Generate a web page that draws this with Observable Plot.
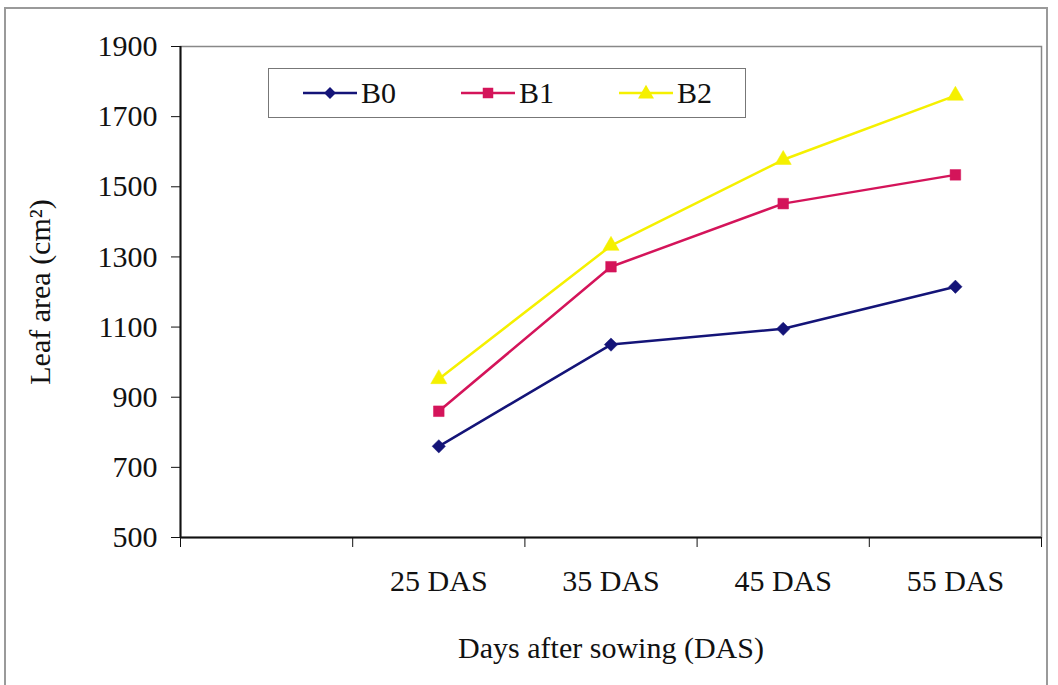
<!DOCTYPE html>
<html>
<head>
<meta charset="utf-8">
<script src="https://cdn.jsdelivr.net/npm/d3@7"></script>
<script src="https://cdn.jsdelivr.net/npm/@observablehq/plot@0.6"></script>
<style>
  html, body { margin: 0; padding: 0; background: #fff; }
  #wrap { position: relative; width: 1058px; height: 685px; overflow: hidden; font-family: 'Liberation Serif', 'DejaVu Serif', serif; }
  #outer { position: absolute; left: 4px; top: 7px; width: 1044px; height: 700px; border: 2px solid #9a9a9a; box-sizing: border-box; }
  #legend { position: absolute; left: 268px; top: 68px; width: 478px; height: 50px; border: 1.5px solid #777; box-sizing: border-box; background: #fff; }
  .item { position: absolute; top: 0; height: 47px; display: flex; align-items: center; font-family: 'Liberation Serif', serif; font-size: 30px; color: #111; }
  .item svg { margin-right: 4px; }
  #chart svg text { font-family: 'Liberation Serif', serif; }
</style>
</head>
<body>
<div id="wrap">
  <div id="outer"></div>
  <div id="chart"></div>
  <div id="legend"></div>
</div>
<script>
const categories = ["25 DAS", "35 DAS", "45 DAS", "55 DAS"];
const seriesNames = ["B0", "B1", "B2"];
const B0 = [760, 1050, 1095, 1215];
const B1 = [860, 1272, 1452, 1534];
const B2 = [952, 1332, 1577, 1760];
const yTicks = [500, 700, 900, 1100, 1300, 1500, 1700, 1900];
const colors = ["#141478", "#d4145a", "#f5f000"];
const symbols = ["diamond2", "square", "triangle"];

const valuesBySeries = [B0, B1, B2];
// one leading empty slot before the first category (as in the reference)
const slot = (i) => i + 1.5;
const data = [];
seriesNames.forEach((s, k) => {
  valuesBySeries[k].forEach((v, i) => data.push({series: s, x: slot(i), cat: categories[i], y: v}));
});
const nSlots = categories.length + 1;
const boundaryTicks = d3.range(0, nSlots + 1);
const labelTicks = categories.map((c, i) => slot(i));

const plot = Plot.plot({
  width: 1058,
  height: 685,
  marginLeft: 180,
  marginRight: 17,
  marginTop: 46,
  marginBottom: 148,
  style: {fontFamily: "'Liberation Serif', serif", fontSize: "30px", color: "#111", background: "transparent"},
  x: {type: "linear", domain: [0, nSlots]},
  y: {domain: [yTicks[0], yTicks[yTicks.length - 1]]},
  color: {domain: seriesNames, range: colors},
  symbol: {domain: seriesNames, range: symbols},
  marks: [
    Plot.frame({stroke: "#888", strokeWidth: 1.5}),
    Plot.axisY({ticks: yTicks, tickSize: 9, tickPadding: 14, tickFormat: (d) => String(d), label: null, fontSize: 30}),
    Plot.axisX({ticks: boundaryTicks, tickSize: 10, tickFormat: () => "", label: null}),
    Plot.axisX({ticks: labelTicks, tickSize: 0, tickPadding: 32, tickFormat: (d) => categories[Math.round(d - 1.5)], label: null, fontSize: 30}),
    Plot.ruleX([0], {stroke: "#111", strokeWidth: 2}),
    Plot.ruleY([yTicks[0]], {stroke: "#111", strokeWidth: 2}),
    Plot.line(data, {x: "x", y: "y", z: "series", stroke: "series", strokeWidth: 2.5}),
    Plot.dot(data, {x: "x", y: "y", symbol: "series", fill: "series", stroke: "series", strokeWidth: 0.5, r: 6}),
    Plot.text(["Days after sowing (DAS)"], {frameAnchor: "bottom", dy: 120, text: (d) => d, fontSize: 30, fill: "#111"}),
    Plot.text(["Leaf area (cm²)"], {frameAnchor: "left", textAnchor: "middle", dx: -140, rotate: -90, text: (d) => d, fontSize: 30, fill: "#111"})
  ]
});
document.getElementById("chart").appendChild(plot);

// legend
const legend = document.getElementById("legend");
const lefts = [34, 192, 350];
seriesNames.forEach((s, k) => {
  const div = document.createElement("div");
  div.className = "item";
  div.style.left = lefts[k] + "px";
  const sym = d3.symbol(k === 0 ? d3.symbolDiamond2 : k === 1 ? d3.symbolSquare : d3.symbolTriangle, k === 0 ? 90 : 110)();
  div.innerHTML = `<svg width="54" height="20" viewBox="0 0 54 20"><line x1="0" x2="54" y1="10" y2="10" stroke="${colors[k]}" stroke-width="2.5"/><path d="${sym}" transform="translate(27,${k===2?11:10})" fill="${colors[k]}"/></svg><span>${s}</span>`;
  legend.appendChild(div);
});
</script>
</body>
</html>
